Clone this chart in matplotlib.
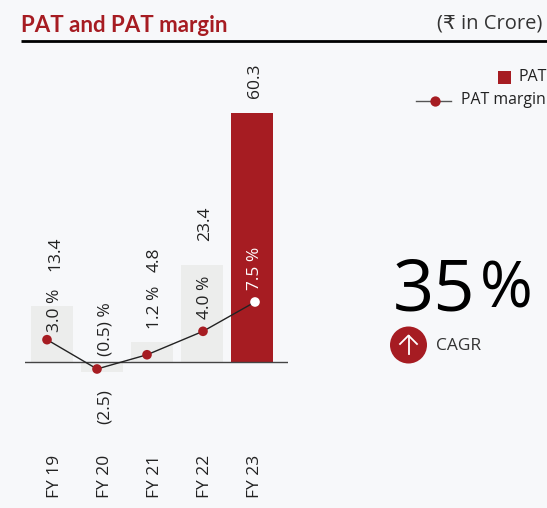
import matplotlib.pyplot as plt
from matplotlib.patches import Circle, Rectangle

W, H = 547, 508
BG = "#f7f8fa"
RED = "#a61c22"
GREY = "#ecedec"
DARK = "#333333"

years = ["FY 19", "FY 20", "FY 21", "FY 22", "FY 23"]
pat = [13.4, -2.5, 4.8, 23.4, 60.3]
margin = [3.0, -0.5, 1.2, 4.0, 7.5]
pat_labels = ["13.4", "(2.5)", "4.8", "23.4", "60.3"]
margin_labels = ["3.0 %", "(0.5) %", "1.2 %", "4.0 %", "7.5 %"]

plt.rcParams['font.family'] = ['Open Sans', 'DejaVu Sans']

fig = plt.figure(figsize=(W/100, H/100), dpi=100, facecolor=BG)

# overlay in pixel coords for all the text and furniture
page = fig.add_axes([0, 0, 1, 1])
page.set_xlim(0, W)
page.set_ylim(H, 0)
page.axis('off')
page.set_zorder(5)

# plot area runs 25..288 px across, 40..400 px down
left, right, top, bottom = 25, 288, 40, 400
ax = fig.add_axes([left/W, 1-bottom/H, (right-left)/W, (bottom-top)/H])
ax.patch.set_alpha(0)
ax.set_xlim((left-52)/50, (right-52)/50)
ax.set_ylim((361.5-bottom)/4.12, (361.5-top)/4.12)
ax.axis('off')

colors = [GREY, GREY, GREY, GREY, RED]
ax.bar(range(len(years)), pat, width=0.84, color=colors, zorder=1)
ax.axhline(0, color="#444444", lw=1, zorder=2)

ax2 = ax.twinx()
ax2.patch.set_alpha(0)
ax2.set_ylim((364.8-bottom)/8.375, (364.8-top)/8.375)
ax2.axis('off')
# the markers in the source sit a little off the bar centres
nudge = [-0.1, -0.1, -0.1, 0.02, 0.06]
line_x = [i + nudge[i] for i in range(len(years))]
ax2.plot(line_x, margin, color="#222222", lw=1, zorder=3)
ax2.scatter(line_x, margin, s=48, color=[RED]*4+["white"], zorder=4, linewidths=0)

# label anchors (bottom edge of the rotated text, px)
pat_label_y = [271, 424, 272, 241, 98]
margin_label_y = [332, 356, 329, 319, 290]
x_px = [55, 105, 155, 205, 255]

for i in range(len(years)):
    page.text(x_px[i], pat_label_y[i], pat_labels[i], rotation=90, ha='center', va='bottom',
              fontsize=12.5, color="#222222")
    page.text(x_px[i], margin_label_y[i], margin_labels[i], rotation=90, ha='center', va='bottom',
              fontsize=12.5, color="white" if i == 4 else "#222222")
    page.text(x_px[i], 498, years[i], rotation=90, ha='center', va='bottom',
              fontsize=12.5, color="#222222")

# header
page.text(21, 25, "PAT and PAT margin", fontsize=16, fontweight='bold', color=RED, va='center', ha='left',
          family=['Lato', 'DejaVu Sans'])
page.text(542, 23, "(₹ in Crore)", fontsize=14.5, color=DARK, va='center', ha='right')
page.plot([21, W], [41, 41], color="black", lw=2, solid_capstyle='butt')

# legend, kept just inside the right edge
page.add_patch(Rectangle((498, 71), 13, 13, color=RED, lw=0))
page.text(519, 77, "PAT", fontsize=11.5, color="#222222", va='center', ha='left')
page.plot([416, 451], [100.5, 100.5], color="#555555", lw=1)
page.scatter([435], [100.5], s=55, color=RED, linewidths=0, zorder=3)
page.text(461, 100, "PAT margin", fontsize=11.4, color="#222222", va='center', ha='left')

# CAGR callout
page.text(393, 292, "35", fontsize=52, color="black", va='center', ha='left')
page.text(533, 291, "%", fontsize=46, color="black", va='center', ha='right')
page.add_patch(Circle((408.5, 345), 18.5, color=RED, lw=0))
page.plot([408.5, 408.5], [354, 336], color="white", lw=1.3)
page.plot([400, 408.5, 417], [344, 335.5, 344], color="white", lw=1.3)
page.text(436, 346, "CAGR", fontsize=12.5, color=DARK, va='center', ha='left')

fig.savefig("out.png", dpi=100, facecolor=BG)
